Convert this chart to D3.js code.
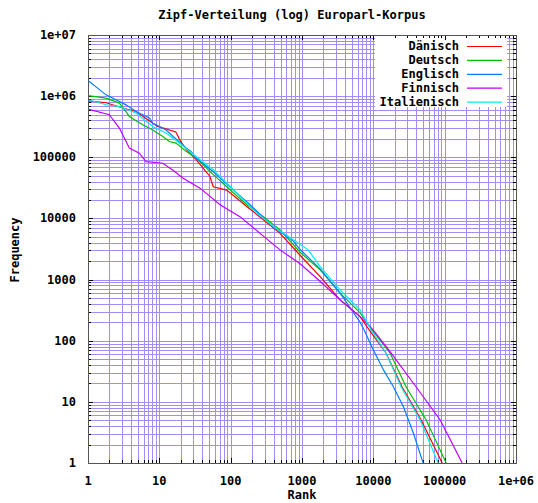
<!DOCTYPE html>
<html>

<head>
  <meta charset="UTF-8" />
  <title>Zipf-Verteilung</title>
  <style>
    body {
      margin: 0;
      background: white;
    }

    text {
      font-family: "DejaVu Sans Mono", monospace;
      font-weight: bold;
      font-size: 12px;
      fill: black;
    }
  </style>
  <script src="https://d3js.org/d3.v7.min.js"></script>
</head>

<body>
  <div id="chart"></div>
  <script>
    // rank / frequency pairs
    const daRanks = [1, 1.8, 3.07, 4.71, 8.1, 9.5, 17, 20, 24, 33, 51, 57, 88, 168, 288, 493, 940, 1795, 3420, 6530, 8730, 15100, 25350, 46800, 92300];
    const daFreqs = [8.4e5, 7.8e5, 6.4e5, 5.6e5, 3.6e5, 3.2e5, 2.6e5, 1.8e5, 1.33e5, 9.1e4, 4.9e4, 3.3e4, 2.9e4, 1.57e4, 9.5e3, 5.7e3, 2.5e3, 1.12e3, 466, 248, 150, 62.5, 17.5, 5.06, 1];

    const deRanks = [1, 1.79, 2.75, 3.41, 3.8, 5.85, 7.24, 11.2, 13.8, 17.1, 23.7, 32.7, 57, 98, 168, 288, 493, 940, 1795, 3420, 6530, 9620, 17200, 28850, 55000, 105000];
    const deFreqs = [1.02e6, 9.3e5, 7.7e5, 5.6e5, 4.65e5, 3.4e5, 3.0e5, 2.19e5, 1.81e5, 1.71e5, 1.25e5, 9.7e4, 5.2e4, 2.94e4, 1.67e4, 1.07e4, 6.5e3, 2.8e3, 1.44e3, 600, 285, 150, 62.5, 17.5, 5.06, 1];

    const enRanks = [1, 1.79, 3.41, 4.71, 7.24, 8.08, 9, 12.4, 23.7, 27.8, 32.7, 57, 108, 187, 235, 394, 750, 940, 1795, 3420, 6530, 7430, 10000, 13870, 19100, 26400, 36500, 49900];
    const enFreqs = [1.81e6, 1.05e6, 7.2e5, 5.6e5, 4.4e5, 3.6e5, 3.4e5, 2.8e5, 1.42e5, 1.25e5, 9.7e4, 5.8e4, 2.94e4, 1.67e4, 1.3e4, 7.3e3, 4.3e3, 3.1e3, 1.5e3, 600, 200, 150, 70.7, 33.3, 17.7, 8.34, 3.06, 1];

    const fiRanks = [1, 1.99, 2.75, 3.8, 5.24, 6.51, 11.2, 15.4, 21.3, 37.2, 71, 135, 258, 493, 940, 1680, 3420, 6530, 9930, 17780, 39850, 86500, 176000];
    const fiFreqs = [6.15e5, 4.96e5, 3.01e5, 1.42e5, 1.17e5, 8.5e4, 8.0e4, 6.2e4, 4.57e4, 3.13e4, 1.67e4, 1.07e4, 5.7e3, 3.06e3, 1.81e3, 1000, 466, 248, 150, 62.5, 17.5, 5.06, 1];

    const itRanks = [1, 1.79, 2.75, 4.71, 8.08, 12.4, 19.1, 26.4, 32.7, 57.2, 109, 208, 397, 757, 1220, 1795, 3420, 6530, 9310, 15100, 24560, 45300, 81100];
    const itFreqs = [8.73e5, 7.23e5, 6.78e5, 5.29e5, 3.19e5, 2.49e5, 1.71e5, 1.25e5, 1.03e5, 6.2e4, 2.94e4, 1.38e4, 7.4e3, 4.47e3, 3.06e3, 1630, 678, 319, 150, 62.5, 17.5, 5.06, 1];

    const seriesNames = ["Dänisch", "Deutsch", "Englisch", "Finnisch", "Italienisch"];
    const seriesColors = ["#ff0000", "#00c000", "#0080ff", "#c000ff", "#00eeee"];

    const xTicks = [1, 10, 100, 1000, 10000, 100000, 1000000];
    const xTickLabels = ["1", "10", "100", "1000", "10000", "100000", "1e+06"];
    const yTicks = [1, 10, 100, 1000, 10000, 100000, 1000000, 10000000];
    const yTickLabels = ["1", "10", "100", "1000", "10000", "100000", "1e+06", "1e+07"];

    const series = [
      { ranks: daRanks, freqs: daFreqs },
      { ranks: deRanks, freqs: deFreqs },
      { ranks: enRanks, freqs: enFreqs },
      { ranks: fiRanks, freqs: fiFreqs },
      { ranks: itRanks, freqs: itFreqs }
    ].map((s, i) => ({
      name: seriesNames[i],
      color: seriesColors[i],
      points: s.ranks.map((r, j) => [r, s.freqs[j]])
    }));

    let W = 538, H = 503;
    let margin = { top: 35, right: 22, bottom: 40, left: 88 },
      width = W - margin.left - margin.right,
      height = H - margin.top - margin.bottom;

    let svg = d3.select("#chart")
      .append("svg")
      .attr("width", W)
      .attr("height", H);

    let g = svg.append("g")
      .attr("transform", "translate(" + margin.left + "," + margin.top + ")");

    let xScale = d3.scaleLog().domain([1, 1e6]).range([0, width]);
    let yScale = d3.scaleLog().domain([1, 1e7]).range([height, 0]);

    // minor + major positions for grid and ticks
    const minorOf = (lo, hi) => {
      let out = [];
      for (let d = lo; d < hi; d *= 10) {
        for (let k = 2; k <= 9; k++) out.push(d * k);
      }
      return out;
    };
    let xMinor = minorOf(1, 1e6), yMinor = minorOf(1, 1e7);

    const gridColor = "#a38cf7";
    g.append("g").selectAll("line")
      .data(xMinor.concat(xTicks.slice(1, -1)))
      .enter().append("line")
      .attr("x1", d => Math.round(xScale(d)) + 0.5)
      .attr("x2", d => Math.round(xScale(d)) + 0.5)
      .attr("y1", 0).attr("y2", height)
      .attr("stroke", gridColor);

    g.append("g").selectAll("line")
      .data(yMinor.concat(yTicks.slice(1, -1)))
      .enter().append("line")
      .attr("y1", d => Math.round(yScale(d)) + 0.5)
      .attr("y2", d => Math.round(yScale(d)) + 0.5)
      .attr("x1", 0).attr("x2", width)
      .attr("stroke", gridColor);

    // legend background hides the grid
    g.append("rect")
      .attr("x", 287).attr("y", 1)
      .attr("width", 132).attr("height", 71)
      .attr("fill", "white");

    // axis ticks, mirrored on all sides (gnuplot style)
    let ticks = g.append("g").attr("stroke", "black");
    const tickLen = d => (xTicks.includes(d) || yTicks.includes(d)) ? 5 : 3;
    xMinor.concat(xTicks).forEach(d => {
      let x = Math.round(xScale(d)) + 0.5;
      ticks.append("line").attr("x1", x).attr("x2", x).attr("y1", height).attr("y2", height - tickLen(d));
      ticks.append("line").attr("x1", x).attr("x2", x).attr("y1", 0).attr("y2", tickLen(d));
    });
    yMinor.concat(yTicks).forEach(d => {
      let y = Math.round(yScale(d)) + 0.5;
      ticks.append("line").attr("y1", y).attr("y2", y).attr("x1", 0).attr("x2", tickLen(d));
      ticks.append("line").attr("y1", y).attr("y2", y).attr("x1", width).attr("x2", width - tickLen(d));
    });

    // curves
    g.append("clipPath").attr("id", "plotClip")
      .append("rect").attr("width", width).attr("height", height);

    let line = d3.line()
      .x(d => xScale(d[0]))
      .y(d => yScale(Math.max(d[1], 0.5)));

    g.append("g").attr("clip-path", "url(#plotClip)")
      .selectAll("path")
      .data(series)
      .enter().append("path")
      .attr("d", d => line(d.points))
      .attr("fill", "none")
      .attr("stroke", d => d.color)
      .attr("stroke-width", 1.2);

    // frame
    g.append("rect")
      .attr("x", 0.5).attr("y", 0.5)
      .attr("width", width).attr("height", height)
      .attr("fill", "none")
      .attr("stroke", "#555");

    // tick labels
    g.append("g").selectAll("text")
      .data(xTicks)
      .enter().append("text")
      .attr("x", d => xScale(d))
      .attr("y", height + 22)
      .attr("text-anchor", "middle")
      .text((d, i) => xTickLabels[i]);

    g.append("g").selectAll("text")
      .data(yTicks)
      .enter().append("text")
      .attr("x", -12)
      .attr("y", d => yScale(d) + 4)
      .attr("text-anchor", "end")
      .text((d, i) => yTickLabels[i]);

    // legend
    let legend = g.append("g").selectAll("g")
      .data(series)
      .enter().append("g")
      .attr("transform", (d, i) => "translate(0," + (11 + i * 13.9) + ")");
    legend.append("text")
      .attr("x", 371).attr("y", 4)
      .attr("text-anchor", "end")
      .text(d => d.name);
    legend.append("line")
      .attr("x1", 379).attr("x2", 414)
      .attr("y1", 0.5).attr("y2", 0.5)
      .attr("stroke", d => d.color)
      .attr("stroke-width", 1.2);

    // titles
    svg.append("text")
      .attr("x", 292).attr("y", 19)
      .attr("text-anchor", "middle")
      .text("Zipf-Verteilung (log) Europarl-Korpus");

    svg.append("text")
      .attr("x", 302).attr("y", 499)
      .attr("text-anchor", "middle")
      .text("Rank");

    svg.append("text")
      .attr("transform", "translate(19,250) rotate(-90)")
      .attr("text-anchor", "middle")
      .text("Frequency");
  </script>
</body>

</html>
